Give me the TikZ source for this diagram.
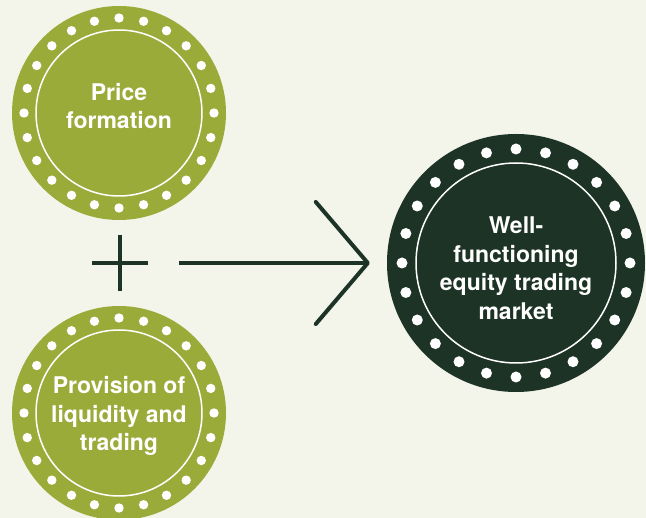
\documentclass[tikz,border=0pt]{standalone}
\usepackage{fontspec}
\setmainfont{TeX Gyre Heros}
\usetikzlibrary{arrows.meta}
\definecolor{discolive}{HTML}{9BAB3A}
\definecolor{discpine}{HTML}{1C3326}
\definecolor{paper}{HTML}{F3F4EA}
\tikzset{
  disc/.style={circle,inner sep=0pt,draw=none},
  disctext/.style={inner sep=0pt,text=white,align=center,
    font=\fontsize{23}{28.5}\selectfont\bfseries},
  ring/.style={white,line width=1.5pt},
  plusmark/.style={minimum size=56pt,inner sep=0pt,
    path picture={
      \draw[discpine,line width=4pt] (path picture bounding box.west) -- (path picture bounding box.east);
      \draw[discpine,line width=4pt] (path picture bounding box.north) -- (path picture bounding box.south);
    }},
  link/.style={discpine,line width=4pt,-{Straight Barb[length=52pt,width=122pt,round]}}
}
\begin{document}
\begin{tikzpicture}[x=1pt,y=-1pt]
\useasboundingbox[fill=paper] (0,0) rectangle (646,518);
% discs
\node[disc,fill=discolive,minimum size=214pt] (price) at (119,113) {};
\node[disc,fill=discolive,minimum size=214pt] (liquidity) at (119,413) {};
\node[disc,fill=discpine,minimum size=258pt] (market) at (516,263) {};
% inner rings and dots
\draw[ring] (price.center) circle (83);
\draw[ring] (liquidity.center) circle (83);
\draw[ring] (market.center) circle (100);
\foreach \n/\r/\d in {price/95/4.7,liquidity/95/4.7,market/114/5.5}
  \foreach \a in {0,15,...,345}
    \fill[white] (\n.center) ++(\a:\r) circle (\d);
% labels
\node[disctext] (pricetext) at (119,106) {Price\\formation};
\node[disctext] (liquiditytext) at (119,416) {Provision of\\liquidity and\\trading};
\node[disctext] (markettext) at (516,268) {Well-\\functioning\\equity trading\\market};
% plus and arrow
\node[plusmark] (plus) at (120,263) {};
\draw[link] (plus) -- (market) [shorten <=31pt,shorten >=17pt];
\end{tikzpicture}
\end{document}
